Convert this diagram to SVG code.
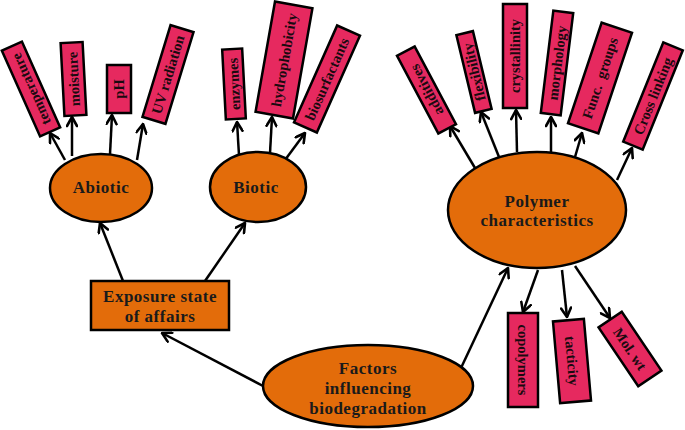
<svg xmlns="http://www.w3.org/2000/svg" width="685" height="430" viewBox="0 0 685 430">
<defs>
<marker id="arr" viewBox="0 0 12 12" refX="10.5" refY="6" markerWidth="12" markerHeight="12" markerUnits="userSpaceOnUse" orient="auto">
<path d="M1.5,1 L10.5,6 L1.5,11" fill="none" stroke="#000" stroke-width="2.6" stroke-linecap="round" stroke-linejoin="round"/>
</marker>
<style>
.main{fill:#E36C0A;stroke:#000;stroke-width:2.5}
.leaf{fill:#E6295F;stroke:#000;stroke-width:2.5}
.mt{font-family:"Liberation Serif","Times New Roman",serif;font-weight:bold;font-size:17px;fill:#1a1a1a;text-anchor:middle;letter-spacing:0.5px}
.lt{font-family:"Liberation Serif","Times New Roman",serif;font-weight:bold;font-size:14.5px;fill:#1a0a10;text-anchor:middle;dominant-baseline:central}
.c line{stroke:#000;stroke-width:2.5;marker-end:url(#arr)}
</style>
</defs>
<rect width="685" height="430" fill="#fff"/>

<g id="connectors" class="c">
<line x1="65" y1="160" x2="50" y2="133"/>
<line x1="72" y1="156" x2="72" y2="117"/>
<line x1="110" y1="154" x2="112" y2="115"/>
<line x1="137" y1="160" x2="143" y2="124"/>
<line x1="239" y1="155" x2="237" y2="122"/>
<line x1="270" y1="153" x2="272" y2="117"/>
<line x1="285" y1="160" x2="305" y2="133"/>
<line x1="123" y1="281" x2="100" y2="223"/>
<line x1="205" y1="281" x2="245" y2="223"/>
<line x1="265" y1="387" x2="162" y2="333"/>
<line x1="461" y1="368" x2="508" y2="268"/>
<line x1="475" y1="168" x2="450" y2="126"/>
<line x1="499" y1="157" x2="481" y2="112"/>
<line x1="517" y1="152" x2="516" y2="110"/>
<line x1="551" y1="152" x2="551" y2="117"/>
<line x1="575" y1="157" x2="582" y2="133"/>
<line x1="617" y1="180" x2="632" y2="148"/>
<line x1="538" y1="270" x2="523" y2="312"/>
<line x1="562" y1="270" x2="567" y2="317"/>
<line x1="575" y1="266" x2="610" y2="318"/>
</g>

<g id="factors">
<ellipse class="main" cx="368" cy="386" rx="105" ry="41"/>
<text class="mt" x="368" y="374">Factors</text>
<text class="mt" x="368" y="394">influencing</text>
<text class="mt" x="368" y="414">biodegradation</text>
</g>

<g id="exposure">
<rect class="main" x="91" y="281" width="138" height="49"/>
<text class="mt" x="160" y="302">Exposure state</text>
<text class="mt" x="160" y="322">of affairs</text>
</g>

<g id="abiotic">
<ellipse class="main" cx="101" cy="188" rx="51" ry="34"/>
<text class="mt" x="101" y="193">Abiotic</text>
</g>

<g id="biotic">
<ellipse class="main" cx="258" cy="187" rx="48" ry="35"/>
<text class="mt" x="256" y="193">Biotic</text>
</g>

<g id="polymer">
<ellipse class="main" cx="537" cy="210" rx="89" ry="58"/>
<text class="mt" x="537" y="207">Polymer</text>
<text class="mt" x="537" y="226">characteristics</text>
</g>

<g id="temperature" transform="translate(31,89) rotate(-24)">
<rect class="leaf" x="-11" y="-47" width="22" height="94"/>
<text class="lt" transform="rotate(-90)">temperature</text>
</g>
<g id="moisture" transform="translate(73.5,79) rotate(-3)">
<rect class="leaf" x="-11" y="-36.5" width="22" height="73"/>
<text class="lt" transform="rotate(-90)">moisture</text>
</g>
<g id="ph" transform="translate(119,89)">
<rect class="leaf" x="-12" y="-24" width="24" height="48"/>
<text class="lt" transform="rotate(-90)">pH</text>
</g>
<g id="uv" transform="translate(168,74.5) rotate(17)">
<rect class="leaf" x="-12" y="-48" width="24" height="96"/>
<text class="lt" transform="rotate(-90)">UV radiation</text>
</g>

<g id="enzymes" transform="translate(234,84) rotate(-3)">
<rect class="leaf" x="-10" y="-35" width="20" height="70"/>
<text class="lt" transform="rotate(-90)">enzymes</text>
</g>
<g id="hydrophobicity" transform="translate(284,60) rotate(10)">
<rect class="leaf" x="-19" y="-56" width="38" height="112"/>
<text class="lt" transform="rotate(-90)">hydrophobicity</text>
</g>
<g id="biosurfactants" transform="translate(327,79) rotate(24)">
<rect class="leaf" x="-12.5" y="-53" width="25" height="106"/>
<text class="lt" transform="rotate(-90)">biosurfactants</text>
</g>

<g id="additives" transform="translate(426.5,90) rotate(-28)">
<rect class="leaf" x="-10" y="-44" width="20" height="88"/>
<text class="lt" transform="rotate(-90)">additives</text>
</g>
<g id="flexibility" transform="translate(474,72) rotate(-13.5)">
<rect class="leaf" x="-8.5" y="-40" width="17" height="80"/>
<text class="lt" transform="rotate(-90)">flexibility</text>
</g>
<g id="crystallinity" transform="translate(515,56)">
<rect class="leaf" x="-12" y="-52" width="24" height="104"/>
<text class="lt" transform="rotate(-90)">crystallinity</text>
</g>
<g id="morphology" transform="translate(557,63) rotate(7)">
<rect class="leaf" x="-10" y="-51.5" width="20" height="103"/>
<text class="lt" transform="rotate(-90)">morphology</text>
</g>
<g id="funcgroups" transform="translate(600,78) rotate(18.5)">
<rect class="leaf" x="-16" y="-53" width="32" height="106"/>
<text class="lt" transform="rotate(-90)" xml:space="preserve">Func.  groups</text>
</g>
<g id="crosslinking" transform="translate(653,96) rotate(22)">
<rect class="leaf" x="-10.5" y="-53.5" width="21" height="107"/>
<text class="lt" transform="rotate(-90)">Cross linking</text>
</g>

<g id="copolymers" transform="translate(523,360)">
<rect class="leaf" x="-15" y="-47" width="30" height="94"/>
<text class="lt" transform="rotate(90)">copolymers</text>
</g>
<g id="tacticity" transform="translate(572,361) rotate(-5)">
<rect class="leaf" x="-15.5" y="-41" width="31" height="82"/>
<text class="lt" transform="rotate(90)">tacticity</text>
</g>
<g id="molwt" transform="translate(630,349) rotate(-34)">
<rect class="leaf" x="-14" y="-35.5" width="28" height="71"/>
<text class="lt" transform="rotate(90)">Mol. wt</text>
</g>
</svg>
